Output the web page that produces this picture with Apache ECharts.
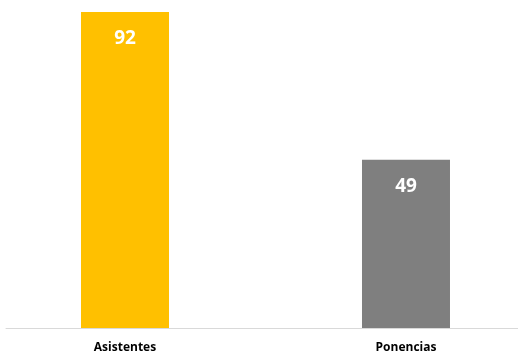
<!DOCTYPE html>
<html><head><meta charset="utf-8">
<script src="https://cdn.jsdelivr.net/npm/echarts@6/dist/echarts.min.js"></script>
<style>html,body{margin:0;padding:0;background:#fff}#c{width:518px;height:351px}</style>
</head><body><div id="c"></div>
<script>
const categories = ['Asistentes', 'Ponencias'];
const values = [92, 49];
const colors = ['#FFC000', '#7F7F7F'];

const chart = echarts.init(document.getElementById('c'), null, {renderer: 'canvas'});
chart.setOption({
  animation: false,
  backgroundColor: '#ffffff',
  grid: {left: 6, right: 0, top: 12, bottom: 23, containLabel: false, outerBoundsMode: 'none'},
  xAxis: {
    type: 'value', min: -0.4235, max: 1.3986,
    axisLine: {show: true, lineStyle: {color: '#D9D9D9', width: 1}},
    axisTick: {show: false}, splitLine: {show: false},
    axisLabel: {
      customValues: categories.map((c, i) => i),
      formatter: v => categories[Math.round(v)] || '',
      color: '#000', fontFamily: 'Open Sans', fontWeight: 'bold', fontSize: 12, margin: 14
    }
  },
  yAxis: {type: 'value', min: 0, max: 92, show: false, splitLine: {show: false}},
  series: [{
    type: 'bar',
    barWidth: 88,
    data: values.map((v, i) => ({value: [i, v], itemStyle: {color: colors[i]}})),
    label: {show: true, position: 'insideTop', distance: 17, color: '#fff',
            fontFamily: 'Open Sans', fontWeight: 'bold', fontSize: 19,
            formatter: p => p.value[1]}
  }]
});
</script></body></html>
